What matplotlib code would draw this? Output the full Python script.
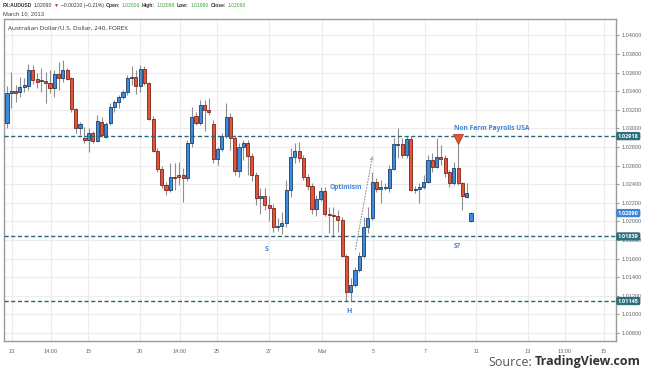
import numpy as np
import matplotlib.pyplot as plt

plt.rcParams['font.family'] = ['Open Sans', 'DejaVu Sans']

# AUDUSD 240-minute candles
opens = [1.03059, 1.03382, 1.03403, 1.03392, 1.03446, 1.03457, 1.03629, 1.03532, 1.03511, 1.03511,
         1.03489, 1.03435, 1.03586, 1.03543, 1.03629, 1.03543, 1.03210, 1.03005, 1.02898, 1.02876,
         1.02952, 1.02865, 1.03070, 1.02909, 1.03059, 1.03231, 1.03285, 1.03339, 1.03392, 1.03543,
         1.03554, 1.03457, 1.03640, 1.03489, 1.03102, 1.02758, 1.02564, 1.02392, 1.02339, 1.02478,
         1.02500, 1.02500, 1.02468, 1.02844, 1.03134, 1.03059, 1.03253, 1.03199, 1.03048, 1.02672,
         1.02779, 1.02919, 1.03124, 1.02898, 1.02543, 1.02801, 1.02844, 1.02704, 1.02500, 1.02253,
         1.02274, 1.02177, 1.02145, 1.01941, 1.01951, 1.01984, 1.02339, 1.02693, 1.02758, 1.02683,
         1.02478, 1.02382, 1.02134, 1.02242, 1.02328, 1.02081, 1.02070, 1.02059, 1.02016, 1.01629,
         1.01242, 1.01317, 1.01478, 1.01629, 1.01941, 1.02038, 1.02425, 1.02349, 1.02360, 1.02360,
         1.02564, 1.02822, 1.02833, 1.02715, 1.02887, 1.02339, 1.02349, 1.02371, 1.02425, 1.02661,
         1.02586, 1.02693, 1.02683, 1.02532, 1.02414, 1.02575, 1.02414, 1.02263, 1.02006]
highs = [1.03457, 1.03607, 1.03468, 1.03554, 1.03543, 1.03694, 1.03683, 1.03597, 1.03651, 1.03607,
         1.03629, 1.03629, 1.03715, 1.03737, 1.03651, 1.03554, 1.03220, 1.03070, 1.03016, 1.03005,
         1.02973, 1.03145, 1.03124, 1.03070, 1.03274, 1.03306, 1.03360, 1.03414, 1.03575, 1.03672,
         1.03629, 1.03683, 1.03672, 1.03500, 1.03134, 1.02790, 1.02597, 1.02425, 1.02629, 1.02629,
         1.02640, 1.02575, 1.02876, 1.03231, 1.03177, 1.03306, 1.03306, 1.03328, 1.03091, 1.02801,
         1.02952, 1.03274, 1.03167, 1.02930, 1.02844, 1.02876, 1.02876, 1.02736, 1.02532, 1.02360,
         1.02360, 1.02274, 1.02188, 1.02038, 1.02102, 1.02446, 1.02790, 1.02844, 1.02855, 1.02715,
         1.02511, 1.02414, 1.02285, 1.02371, 1.02371, 1.02156, 1.02156, 1.02124, 1.02048, 1.01650,
         1.01392, 1.01511, 1.01672, 1.02048, 1.02156, 1.02532, 1.02468, 1.02446, 1.02414, 1.02607,
         1.02898, 1.03005, 1.02898, 1.02919, 1.02919, 1.02382, 1.02414, 1.02500, 1.02715, 1.02736,
         1.02898, 1.02822, 1.02715, 1.02554, 1.02640, 1.02844, 1.02425, 1.02414, 1.02098]
lows = [1.03005, 1.03220, 1.03285, 1.03339, 1.03392, 1.03414, 1.03478, 1.03435, 1.03392, 1.03274,
        1.03382, 1.03339, 1.03414, 1.03500, 1.03522, 1.03177, 1.02952, 1.02930, 1.02844, 1.02747,
        1.02844, 1.02855, 1.02909, 1.02898, 1.03038, 1.03177, 1.03220, 1.03317, 1.03360, 1.03468,
        1.03371, 1.03392, 1.03468, 1.03091, 1.02747, 1.02532, 1.02360, 1.02285, 1.02317, 1.02339,
        1.02392, 1.02210, 1.02435, 1.02801, 1.03038, 1.03038, 1.02973, 1.03145, 1.02629, 1.02607,
        1.02758, 1.02898, 1.02769, 1.02500, 1.02478, 1.02661, 1.02500, 1.02435, 1.02177, 1.02081,
        1.02124, 1.02005, 1.01887, 1.01898, 1.01866, 1.01941, 1.02263, 1.02629, 1.02640, 1.02446,
        1.02339, 1.02081, 1.02059, 1.02220, 1.02059, 1.01876, 1.01833, 1.01887, 1.01618, 1.01145,
        1.01150, 1.01296, 1.01457, 1.01607, 1.01876, 1.02016, 1.02317, 1.02199, 1.02339, 1.02317,
        1.02554, 1.02683, 1.02683, 1.02683, 1.02328, 1.02306, 1.02199, 1.02349, 1.02414, 1.02532,
        1.02575, 1.02607, 1.02478, 1.02371, 1.02392, 1.02392, 1.02124, 1.02253, 1.01990]
closes = [1.03382, 1.03403, 1.03382, 1.03446, 1.03468, 1.03629, 1.03522, 1.03500, 1.03522, 1.03489,
          1.03435, 1.03586, 1.03543, 1.03629, 1.03532, 1.03210, 1.03005, 1.03048, 1.02876, 1.02952,
          1.02865, 1.03081, 1.02930, 1.03048, 1.03231, 1.03285, 1.03339, 1.03392, 1.03543, 1.03554,
          1.03457, 1.03640, 1.03489, 1.03102, 1.02758, 1.02564, 1.02392, 1.02339, 1.02478, 1.02468,
          1.02478, 1.02468, 1.02844, 1.03124, 1.03059, 1.03253, 1.03199, 1.03177, 1.02672, 1.02779,
          1.02919, 1.03124, 1.02898, 1.02543, 1.02801, 1.02844, 1.02704, 1.02500, 1.02253, 1.02274,
          1.02177, 1.02145, 1.01941, 1.01951, 1.01984, 1.02339, 1.02693, 1.02758, 1.02683, 1.02478,
          1.02382, 1.02134, 1.02242, 1.02328, 1.02081, 1.02070, 1.02059, 1.02016, 1.01629, 1.01242,
          1.01317, 1.01478, 1.01629, 1.01941, 1.02038, 1.02425, 1.02349, 1.02371, 1.02371, 1.02564,
          1.02833, 1.02833, 1.02715, 1.02887, 1.02339, 1.02349, 1.02371, 1.02425, 1.02661, 1.02586,
          1.02693, 1.02672, 1.02521, 1.02414, 1.02575, 1.02414, 1.02274, 1.02306, 1.02090]

tick_pos = [1.2, 10.2, 18.9, 31.0, 40.3, 48.9, 61.0, 73.3, 85.2, 97.3, 109.2, 121.3, 129.9, 139.0]
tick_labels = ['13', '14:00', '15', '20', '14:00', '25', '27', 'Mar', '5', '7', '11', '13', '13:00', '15']
price_ticks = np.arange(1.008, 1.0401, 0.002)

levels = [1.02918, 1.01839, 1.01145]
last_price = 1.02090

W, H = 645, 376
fig = plt.figure(figsize=(W / 100, H / 100), dpi=100)
ax = fig.add_axes([4 / W, 1 - 341 / H, 612 / W, 322 / H])
ax.set_xlim(-0.7, 141.76)
ax.set_ylim(1.00715, 1.04177)

x = np.arange(len(opens))
o = np.array(opens)
c = np.array(closes)
up = c >= o
lo = np.minimum(o, c)
hgt = np.maximum(np.abs(c - o), 0.00003)

ax.vlines(x, lows, highs, color='#8f8f8f', lw=0.8, zorder=2)
ax.bar(x[up], hgt[up], bottom=lo[up], width=0.72, color='#3d8be0',
       edgecolor='#1b3e66', lw=0.6, zorder=3)
ax.bar(x[~up], hgt[~up], bottom=lo[~up], width=0.72, color='#e2553c',
       edgecolor='#7a2416', lw=0.6, zorder=3)

# support / resistance levels
for lv in levels:
    ax.axhline(lv, color='#2a6774', lw=1.0, ls=(0, (3, 1.8)), zorder=4)
    ax.text(1.003, lv, f'{lv:.5f}', transform=ax.get_yaxis_transform(), ha='left', va='center',
            fontsize=4, color='white', fontweight='bold', clip_on=False,
            bbox=dict(boxstyle='round,pad=0.3', fc='#2e6f7d', ec='none'))
ax.text(1.003, last_price, f'{last_price:.5f}', transform=ax.get_yaxis_transform(), ha='left',
        va='center', fontsize=4, color='white', fontweight='bold', clip_on=False,
        bbox=dict(boxstyle='round,pad=0.3', fc='#3d85d6', ec='none'))

# annotations
blue = '#3f82d8'
ax.text(104.0, 1.03005, 'Non Farm Payrolls USA', color=blue, fontsize=4.8,
        fontweight='bold', va='center', ha='left', zorder=5)
ax.plot(105, 1.02887, marker='v', ms=6.5, color='#e2553c', mec='#b53a25', mew=0.6, zorder=6)
ax.text(75.2, 1.02360, 'Optimism', color=blue, fontsize=4.8, fontweight='bold',
        va='center', ha='left', zorder=5)
ax.text(60.5, 1.01704, 'S', color=blue, fontsize=5, fontweight='bold', va='center', ha='center')
ax.text(104.9, 1.01736, 'S?', color=blue, fontsize=5, fontweight='bold', va='center', ha='center')
ax.text(79.6, 1.01037, 'H', color=blue, fontsize=5, fontweight='bold', va='center', ha='center')
ax.annotate('', xy=(85.2, 1.02736), xytext=(81.0, 1.01672),
            arrowprops=dict(arrowstyle='->', color='#9a9a9a', lw=0.8, ls=':',
                            mutation_scale=5), zorder=5)

ax.text(0.007, 0.972, 'Australian Dollar/U.S. Dollar, 240, FOREX', transform=ax.transAxes,
        fontsize=4.6, color='#333333', va='center', ha='left')

# axes styling
ax.set_yticks(price_ticks)
ax.set_yticklabels([f'{p:.5f}' for p in price_ticks])
ax.set_xticks(tick_pos)
ax.set_xticklabels(tick_labels)
ax.yaxis.tick_right()
ax.tick_params(axis='y', labelsize=4, labelcolor='#666666', color='#999999', length=2.5, pad=1.5)
ax.tick_params(axis='x', labelsize=4, labelcolor='#666666', color='#999999', length=0, pad=6)
for lab in ax.get_xticklabels() + ax.get_yticklabels():
    lab.set_family(['Liberation Sans', 'DejaVu Sans'])
ax.grid(color='#ececec', lw=0.8, zorder=0)
ax.set_axisbelow(True)
for name, sp in ax.spines.items():
    sp.set_color('#9a9a9a')
    sp.set_linewidth(1.0)

# header line
rend = fig.canvas.get_renderer()
dark = '#333333'
green = '#34a834'
pieces = [('FX:AUDUSD', dark, 'bold'), ('1.02090', dark, 'normal'), ('\u25bc', '#c62a1a', 'normal'),
          ('\u22120.00210 (\u22120.21%)', dark, 'normal'), ('Open:', dark, 'bold'),
          ('1.02006', green, 'normal'), ('High:', dark, 'bold'), ('1.02098', green, 'normal'),
          ('Low:', dark, 'bold'), ('1.01990', green, 'normal'), ('Close:', dark, 'bold'),
          ('1.02090', green, 'normal')]
xp = 3
for s, col, wt in pieces:
    t = fig.text(xp / W, 1 - 5.5 / H, s, color=col, fontsize=3.6, fontweight=wt,
                 family=['Liberation Sans', 'DejaVu Sans'], va='center', ha='left')
    xp += t.get_window_extent(renderer=rend).width + 1.8
fig.text(3 / W, 1 - 13.5 / H, 'March 10, 2013', color='#444444', fontsize=4.2,
         family=['Liberation Sans', 'DejaVu Sans'], va='center', ha='left')

# source credit
t2 = fig.text(641 / W, 1 - 362 / H, 'TradingView.com', color='#333333', fontsize=9,
              fontweight='bold', va='center', ha='right')
w2 = t2.get_window_extent(renderer=rend).width
fig.text((641 - w2 - 3) / W, 1 - 362 / H, 'Source:', color='#555555', fontsize=9,
         va='center', ha='right')

fig.savefig('out.png', dpi=100, facecolor='white')
